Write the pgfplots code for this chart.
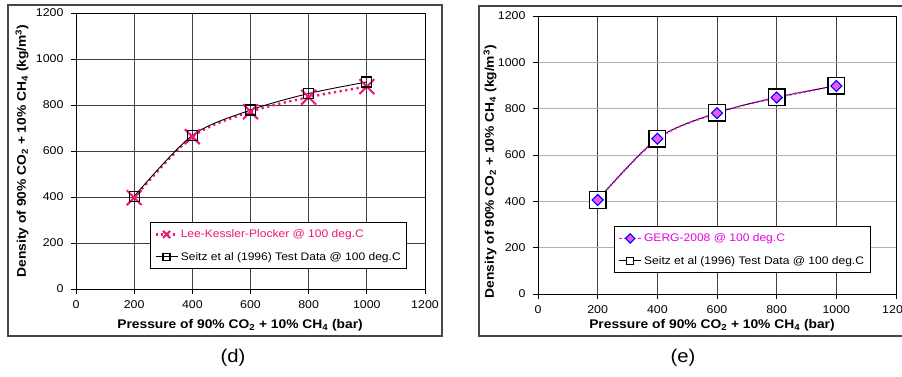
\documentclass[border=0pt]{standalone}
\usepackage{pgfplots}
\pgfplotsset{compat=1.18}
\usepackage{fontspec}
\setmainfont{Liberation Sans}[FakeStretch=1.1]
\definecolor{lkp}{RGB}{240,20,120}
\definecolor{gergl}{RGB}{230,0,230}
\definecolor{gergf}{RGB}{235,90,235}
\definecolor{framec}{RGB}{70,70,70}
\pgfplotstableread{
x y
200 397
400 662
600 771
800 834
1000 880
}\lkpdata
\pgfplotstableread{
x y
200 403
400 668
600 778
800 850
1000 900
}\seitzA
\pgfplotstableread{
x y
200 406
400 671
600 782
800 849
1000 899
}\seitzB
\pgfplotstableread{
x y
200 406
400 670
600 781
800 848
1000 898
}\gergdata
\pgfplotsset{
  common/.style={
    scale only axis,
    anchor=south west,
    xmin=0, xmax=1200, ymin=0, ymax=1200,
    xtick={0,200,...,1200}, ytick={0,200,...,1200},
    /pgf/number format/assume math mode=true,
    /pgf/number format/1000 sep={},
    tick label style={font=\fontsize{11.3}{13}\selectfont},
    tick align=outside, tick pos=left,
    major tick length=5bp,
    every tick/.style={black, line width=0.8bp},
    axis line style={black, line width=0.9bp},
    xmajorgrids, ymajorgrids,
    yticklabel style={xshift=-4bp},
    xticklabel style={yshift=-3bp},
    legend cell align=left,
    legend style={font=\fontsize{11}{13}\selectfont, draw=black, line width=0.8bp,
      row sep=9bp, inner xsep=4bp, inner ysep=5bp, fill=white},
    legend image code/.code={\draw[mark repeat=2,mark phase=2] plot coordinates {(0bp,0bp) (11bp,0bp) (22bp,0bp)};},
  }
}
\begin{document}
\begin{tikzpicture}[x=1bp,y=1bp]
\useasboundingbox (0,0) rectangle (902,376);
\draw[framec, line width=1.2bp] (8,371) rectangle (442,40);
\draw[framec, line width=1.2bp] (479,370) rectangle (906,40);
\begin{axis}[common, at={(76bp,87bp)}, width=349bp, height=276bp,
  major grid style={black!75, line width=0.8bp},
  xlabel={Pressure of 90\% CO\textsubscript{2} + 10\% CH\textsubscript{4} (bar)},
  ylabel={Density of  90\% CO\textsubscript{2} + 10\% CH\textsubscript{4}  (kg/m\textsuperscript{3})},
  every axis x label/.style={at={(axis description cs:0.47,0)}, anchor=center, yshift=-36bp, font=\fontsize{12.6}{14}\selectfont\bfseries},
  every axis y label/.style={at={(axis description cs:0,0.5)}, xshift=-54bp, rotate=90, anchor=center, font=\fontsize{12.6}{14}\selectfont\bfseries},
  legend style={at={(0.212,0.0725)}, anchor=south west},
]
\addplot[lkp, smooth, line width=2.4bp, dash pattern=on 2.2bp off 3.5bp, mark=x, mark size=10.5bp,
  mark options={solid, line width=2bp}, legend image post style={mark size=5bp}] table[x=x,y=y]{\lkpdata};
\addlegendentry{\textcolor{lkp}{Lee-Kessler-Plocker @ 100 deg.C}}
\addplot[black, smooth, line width=0.9bp, mark=square, mark size=5bp,
  mark options={solid, line width=1.2bp}, legend image post style={mark size=3.5bp}] table[x=x,y=y]{\seitzA};
\addlegendentry{Seitz et al (1996) Test Data @ 100 deg.C}
\end{axis}
\begin{axis}[common, at={(538bp,82bp)}, width=358bp, height=278bp,
  major x grid style={black!75, line width=0.8bp},
  major y grid style={black!30, line width=0.8bp},
  xlabel={Pressure of 90\% CO\textsubscript{2} + 10\% CH\textsubscript{4}  (bar)},
  ylabel={Density of  90\% CO\textsubscript{2} + 10\% CH\textsubscript{4}  (kg/m\textsuperscript{3})},
  every axis x label/.style={at={(axis description cs:0.486,0)}, anchor=center, yshift=-31bp, font=\fontsize{12.6}{14}\selectfont\bfseries},
  every axis y label/.style={at={(axis description cs:0,0.44)}, xshift=-48bp, rotate=90, anchor=center, font=\fontsize{12.6}{14}\selectfont\bfseries},
  legend style={at={(0.212,0.0755)}, anchor=south west},
  reverse legend,
]
\addplot[black, smooth, line width=0.9bp, mark=square*, mark size=8.3bp,
  mark options={solid, fill=white, line width=1.3bp}, legend image post style={mark size=3.5bp}] table[x=x,y=y]{\seitzB};
\addlegendentry{Seitz et al (1996) Test Data @ 100 deg.C}
\addplot[gergl, smooth, line width=1.8bp, dash pattern=on 1.8bp off 3bp, mark=square*, mark size=3.9bp,
  mark options={solid, rotate=45, draw=blue, fill=gergf, line width=1.1bp}, legend image post style={mark size=3.3bp}] table[x=x,y=y]{\gergdata};
\addlegendentry{\textcolor{gergl}{GERG-2008 @ 100 deg.C}}
\end{axis}
\node[font=\fontsize{18.5}{20}\selectfont] at (233,18) {(d)};
\node[font=\fontsize{18.5}{20}\selectfont] at (683,18) {(e)};
\end{tikzpicture}
\end{document}
